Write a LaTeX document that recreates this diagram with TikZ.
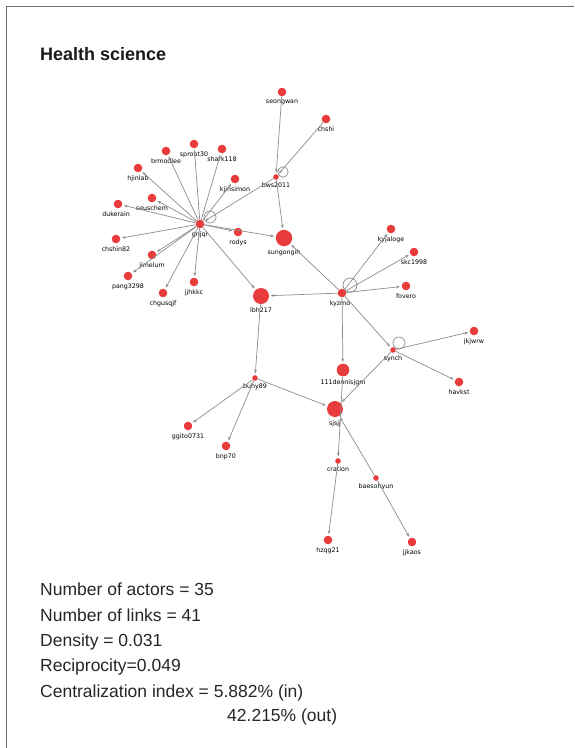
\documentclass[tikz,border=0pt]{standalone}
\usepackage{fontspec}
\usetikzlibrary{arrows.meta}
\newfontfamily\statfont{Liberation Sans}
\newfontfamily\lblfont{DejaVu Sans}
\definecolor{actorred}{RGB}{232,60,60}
\definecolor{linkgray}{RGB}{140,140,140}
\definecolor{framegray}{RGB}{110,110,110}
\tikzset{
  actor/.style={circle, fill=actorred, inner sep=0pt, minimum size=8.6pt},
  minor/.style={actor, minimum size=5.6pt},
  hub/.style={actor, minimum size=16.4pt},
  lbl/.style={font=\lblfont\fontsize{6.3}{7}\selectfont, inner sep=0.5pt, text=black},
  every label/.style={lbl},
  label distance=2.5pt,
  link/.style={draw=linkgray, line width=0.7pt, -{Stealth[length=3.8pt,width=2.8pt]}, shorten >=1.5pt},
  loopline/.style={draw=linkgray, line width=0.7pt},
  stat/.style={font=\statfont\fontsize{17.5}{21}\selectfont, text=black!85, inner sep=0pt, anchor=base west}
}
\begin{document}
\begin{tikzpicture}[x=1pt, y=-1pt]
  \useasboundingbox (0,0) rectangle (574,748);
  \draw[framegray, line width=0.8pt] (6,748) -- (6,6) -- (574,6);
  \node[anchor=base west, inner sep=0pt, text=black!90, font=\statfont\bfseries\fontsize{18}{21}\selectfont] (title) at (40,60) {Health science};

  \node[actor, label=below:seongwan] (seongwan) at (282,92) {};
  \node[actor, label=below:chshi] (chshi) at (326,119) {};
  \node[minor, label=below:bws2011] (bws2011) at (276,177) {};
  \node[hub, label=below:sungongih] (sungongih) at (284,238) {};
  \node[actor, label=below:gnjqr] (gnjqr) at (200,224) {};
  \node[actor, label=below:brmodlee] (brmodlee) at (166,151) {};
  \node[actor, label=below:sprout30] (sprout30) at (194,144) {};
  \node[actor, label=below:shark118] (shark118) at (222,149) {};
  \node[actor, label=below:hjinlab] (hjinlab) at (138,168) {};
  \node[actor, label=below:kjinsimon] (kjinsimon) at (235,179) {};
  \node[actor, label=below:seuschem] (seuschem) at (152,198) {};
  \node[actor, label={[xshift=-2pt]below:dukerain}] (dukerain) at (118,204) {};
  \node[actor, label=below:chshin82] (chshin82) at (116,239) {};
  \node[actor, label=below:jimelum] (jimelum) at (152,255) {};
  \node[actor, label=below:pang3298] (pang3298) at (128,276) {};
  \node[actor, label=below:chgusqjf] (chgusqjf) at (163,293) {};
  \node[actor, label=below:jjhkkc] (jjhkkc) at (194,282) {};
  \node[actor, label=below:rodys] (rodys) at (238,232) {};
  \node[hub, minimum size=16pt, label=below:lbh217] (lbh217) at (261,296) {};
  \node[actor, label={[xshift=-2pt]below:kyzmo}] (kyzmo) at (342,293) {};
  \node[actor, label=below:kyjaloge] (kyjaloge) at (391,229) {};
  \node[actor, label=below:skc1998] (skc1998) at (414,252) {};
  \node[actor, label=below:fovero] (fovero) at (406,286) {};
  \node[minor, label=below:synch] (synch) at (393,350) {};
  \node[actor, label=below:jkjwrw] (jkjwrw) at (474,331) {};
  \node[actor, label=below:havkst] (havkst) at (459,382) {};
  \node[actor, minimum size=12.6pt, label=below:111dennisjgm] (dennis) at (343,370) {};
  \node[hub, minimum size=16pt, label=below:sjsjj] (sjsjj) at (335,409) {};
  \node[minor, label=below:cration] (cration) at (338,461) {};
  \node[minor, label=below:baesohyun] (baesohyun) at (376,478) {};
  \node[actor, label=below:hzqg21] (hzqg21) at (328,540) {};
  \node[actor, label=below:jjkaos] (jjkaos) at (412,542) {};
  \node[minor, label=below:buhy89] (buhy89) at (255,378) {};
  \node[actor, label=below:ggito0731] (ggito) at (188,426) {};
  \node[actor, label=below:bnp70] (bnp70) at (226,446) {};

  \draw[link] (seongwan) -- (bws2011);
  \draw[link] (chshi) -- (bws2011);
  \draw[link] (bws2011) -- (sungongih);
  \draw[link] (bws2011) -- (gnjqr);
  \foreach \t in {brmodlee,sprout30,shark118,hjinlab,kjinsimon,seuschem,dukerain,chshin82,jimelum,pang3298,chgusqjf,jjhkkc,rodys,sungongih,lbh217}
    \draw[link] (gnjqr) -- (\t);
  \foreach \t in {lbh217,sungongih,kyjaloge,skc1998,fovero,dennis,synch}
    \draw[link] (kyzmo) -- (\t);
  \foreach \t in {jkjwrw,havkst,sjsjj}
    \draw[link] (synch) -- (\t);
  \draw[link] (lbh217) -- (buhy89);
  \foreach \t in {ggito,bnp70,sjsjj}
    \draw[link] (buhy89) -- (\t);
  \draw[link] (dennis) -- (cration);
  \draw[link] (cration) -- (hzqg21);
  \draw[link] (baesohyun) -- (sjsjj);
  \draw[link] (baesohyun) -- (jjkaos);
  \draw[loopline] (gnjqr) ++(10,-7) circle (6pt);
  \draw[loopline] (bws2011) ++(7,-5) circle (5.2pt);
  \draw[loopline] (kyzmo) ++(8,-8) circle (7pt);
  \draw[loopline] (synch) ++(6,-7) circle (6pt);

  \node[stat] (actors) at (40,595) {Number of actors = 35};
  \node[stat] (links) at (40,621) {Number of links = 41};
  \node[stat] (density) at (40,646) {Density = 0.031};
  \node[stat] (recip) at (40,671) {Reciprocity=0.049};
  \node[stat] (central) at (40,697) {Centralization index = 5.882\% (in)};
  \node[stat] (centralout) at (227,721) {42.215\% (out)};
\end{tikzpicture}
\end{document}
